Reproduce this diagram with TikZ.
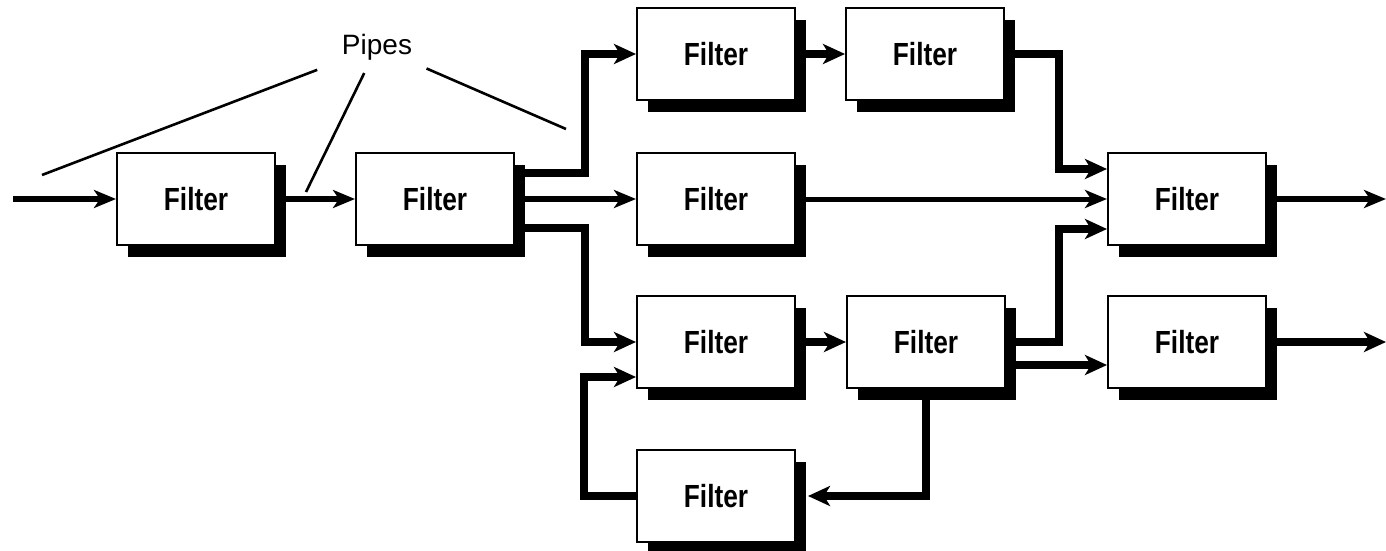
\documentclass[tikz,border=0pt]{standalone}
\usepackage{fontspec}
\setmainfont{Liberation Sans}
\newfontfamily\filterfont[FakeStretch=0.82]{Liberation Sans}
\usetikzlibrary{arrows.meta,shadows}

\begin{document}
\begin{tikzpicture}[x=0.5pt,y=-0.5pt,
        filterbox/.style={draw,line width=1pt,fill=white,minimum width=79pt,minimum height=46pt,inner sep=0pt,
            drop shadow={shadow xshift=5.5pt,shadow yshift=-6pt,fill=black,opacity=1},
            font=\filterfont\bfseries\fontsize{16}{16}\selectfont},
        flowline/.style={line width=4pt,-{Stealth[length=11pt,width=10pt,inset=3pt]}},
        flowthin/.style={line width=3pt,-{Stealth[length=11pt,width=9pt,inset=3pt]}},
        noteline/.style={line width=1.3pt}]
        \useasboundingbox (0,0) rectangle (1386,551);

        \node[font=\fontsize{14}{14}\selectfont] (pipes) at (377,47) {Pipes};

        \node[filterbox] (A) at (196,199) {Filter};
        \node[filterbox] (B) at (435,199) {Filter};
        \node[filterbox] (C) at (716,54) {Filter};
        \node[filterbox] (D) at (925,54) {Filter};
        \node[filterbox] (E) at (716,199) {Filter};
        \node[filterbox] (F) at (1187,199) {Filter};
        \node[filterbox] (G) at (716,342) {Filter};
        \node[filterbox] (H) at (926,342) {Filter};
        \node[filterbox] (I) at (1187,342) {Filter};
        \node[filterbox] (J) at (716,496) {Filter};

        \coordinate (in) at (13,199);
        \coordinate (out1) at (1386,199);
        \coordinate (out2) at (1386,342);
        \coordinate (p1) at (42,175);
        \coordinate (p2) at (306,192);
        \coordinate (p3) at (566,129);

        % pipes pointing at the connectors
        \draw[noteline,shorten <=32pt] (pipes.center) -- (p1);
        \draw[noteline,shorten <=14.5pt] (pipes.center) -- (p2);
        \draw[noteline,shorten <=27pt] (pipes.center) -- (p3);

        \draw[flowthin] (in) -- (A.west);
        \draw[flowthin] (A.east) -- (B.west);

        \draw[flowline] ([yshift=13pt]B.east) -- ++(70,0) |- (C.west);
        \draw[flowthin] (B.east) -- (E.west);
        \draw[flowline] ([yshift=-14.5pt]B.east) -- ++(70,0) |- (G.west);

        \draw[flowline] (C.east) -- (D.west);
        \draw[flowline] (D.east) -- ++(54,0) |- ([yshift=15pt]F.west);
        \draw[line width=2.5pt,-{Stealth[length=11pt,width=9pt,inset=3pt]}] (E.east) -- (F.west);

        \draw[flowline] (G.east) -- (H.west);
        \draw[flowline] (H.east) -- ++(53,0) |- ([yshift=-15pt]F.west);
        \draw[flowline] ([yshift=-11.5pt]H.east) -- ([yshift=-11.5pt]I.west);
        \draw[flowline] (H.south) |- ([xshift=6pt]J.east);
        \draw[flowline] (J.west) -- ++(-52,0) |- ([yshift=-17.5pt]G.west);

        \draw[flowthin] (F.east) -- (out1);
        \draw[flowline] (I.east) -- (out2);
    \end{tikzpicture}
\end{document}
